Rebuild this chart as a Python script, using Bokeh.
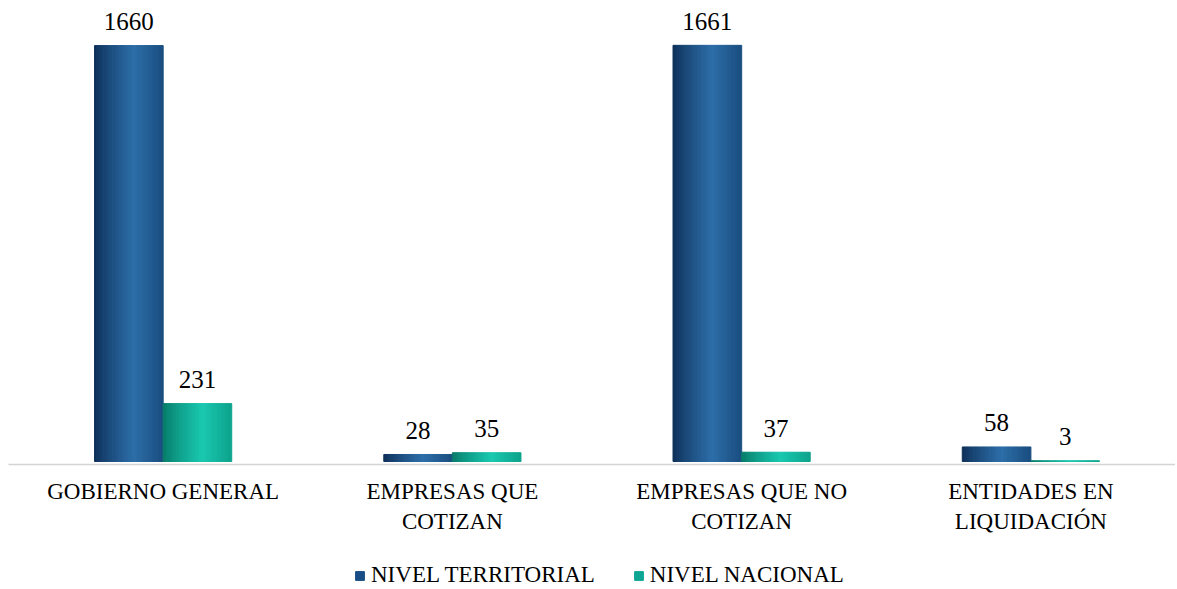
from bokeh.plotting import figure
from bokeh.models import Range1d, FixedTicker, Legend, LegendItem, ColumnDataSource
from bokeh.layouts import column
from bokeh.embed import file_html
from bokeh.resources import INLINE
from bokeh.core.properties import value
import numpy as np

categories = ["GOBIERNO GENERAL", "EMPRESAS QUE COTIZAN", "EMPRESAS QUE NO COTIZAN", "ENTIDADES EN LIQUIDACIÓN"]
category_labels = ["GOBIERNO GENERAL", "EMPRESAS QUE\nCOTIZAN", "EMPRESAS QUE NO\nCOTIZAN", "ENTIDADES EN\nLIQUIDACIÓN"]
series_names = ["NIVEL TERRITORIAL", "NIVEL NACIONAL"]
territorial = [1660, 28, 1661, 58]
nacional = [231, 35, 37, 3]

FONT = "Liberation Serif"
BAR_W = 0.237
N_STRIPS = 30

# (dark edge, highlight, right side) colours for the cylinder shading
shades = {
    "NIVEL TERRITORIAL": ((12, 45, 85), (45, 110, 168), (26, 78, 128)),
    "NIVEL NACIONAL": ((6, 120, 102), (26, 200, 176), (14, 162, 140)),
}
flat = {"NIVEL TERRITORIAL": "#174e86", "NIVEL NACIONAL": "#0ea593"}


def profile(t, c0, c1, c2):
    if t < 0.58:
        f = (t / 0.58) ** 0.8
        c = [a + (b - a) * f for a, b in zip(c0, c1)]
    else:
        f = (t - 0.58) / 0.42
        c = [a + (b - a) * f for a, b in zip(c1, c2)]
    return "#%02x%02x%02x" % tuple(int(round(v)) for v in c)


p = figure(frame_width=1167, frame_height=456, output_backend="svg", toolbar_location=None,
           x_range=Range1d(-0.0346, 4.0), y_range=Range1d(-12, 1808),
           min_border_left=8, min_border_right=0, min_border_top=8, min_border_bottom=0)
p.outline_line_color = None
p.xgrid.visible = False
p.ygrid.visible = False
p.yaxis.visible = False
p.background_fill_color = "white"

centers = np.arange(len(categories)) + 0.5
for si, (name, vals) in enumerate(zip(series_names, [territorial, nacional])):
    left_edges = centers - BAR_W + si * BAR_W
    xs, tops, cols, ws = [], [], [], []
    sw = BAR_W / N_STRIPS
    for k in range(N_STRIPS):
        t = (k + 0.5) / N_STRIPS
        col = profile(t, *shades[name])
        for le, v in zip(left_edges, vals):
            xs.append(le + (k + 0.5) * sw)
            tops.append(v)
            cols.append(col)
            ws.append(sw * 1.04)
    src = ColumnDataSource(dict(x=xs, top=tops, color=cols, w=ws))
    p.vbar(x="x", top="top", bottom=0, width="w", color="color", source=src)
    lsrc = ColumnDataSource(dict(x=left_edges + BAR_W / 2, y=vals, t=[str(v) for v in vals]))
    p.text(x="x", y="y", text="t", source=lsrc, text_font=value(FONT), text_font_size="25px",
           text_align="center", text_baseline="alphabetic", y_offset=-24, text_color="#000000")

p.xaxis.ticker = FixedTicker(ticks=list(centers))
p.xaxis.major_label_overrides = {float(c): lab for c, lab in zip(centers, category_labels)}
p.xaxis.major_label_text_font = FONT
p.xaxis.major_label_text_font_size = "23px"
p.xaxis.major_label_text_color = "#000000"
p.xaxis.major_tick_line_color = None
p.xaxis.minor_tick_line_color = None
p.xaxis.axis_line_color = "#d4d4d4"
p.xaxis.axis_line_width = 1.5
p.xaxis.major_label_standoff = 8

# legend strip below the chart
lg = figure(frame_width=1167, frame_height=54, output_backend="svg", toolbar_location=None,
            x_range=Range1d(0, 1), y_range=Range1d(0, 1),
            min_border_left=8, min_border_right=0, min_border_top=0, min_border_bottom=0)
lg.outline_line_color = None
lg.axis.visible = False
lg.grid.visible = False
items = []
for name in series_names:
    r = lg.vbar(x=[-5], top=[-5], bottom=-6, width=0.1, color=flat[name])
    items.append(LegendItem(label=name, renderers=[r]))
legend = Legend(items=items, orientation="horizontal", location=(346, 2),
                label_text_font=FONT, label_text_font_size="23px", label_text_color="#000000",
                glyph_width=11, glyph_height=11, label_standoff=6, spacing=38,
                border_line_alpha=0, background_fill_alpha=0, padding=0, margin=0)
lg.add_layout(legend, "center")

layout = column(p, lg, spacing=0)
open("out.html", "w").write(file_html(layout, INLINE))
